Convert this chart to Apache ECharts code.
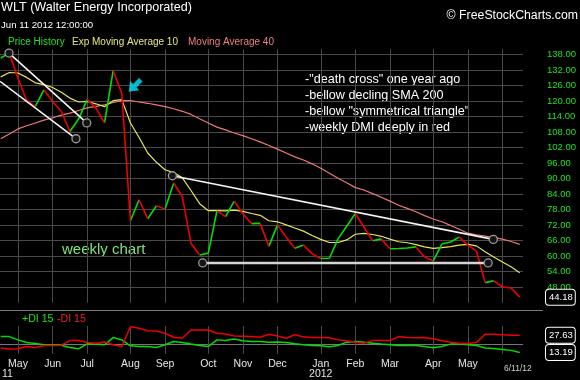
<!DOCTYPE html>
<html><head><meta charset="utf-8">
<script src="https://cdn.jsdelivr.net/npm/echarts@6/dist/echarts.min.js"></script>
<style>html,body{margin:0;padding:0;background:#000;}#c{width:580px;height:380px;}</style>
</head><body><div id="c"></div>
<script>
// weekly closes, Apr 22 2011 .. Jun 15 2012 (week index 0..60)
const price = [136.6,138.5,128.8,120.2,117.9,124.3,119.8,116.0,108.2,113.0,
  120.5,117.3,111.5,131.7,123.0,73.7,81.8,74.5,79.5,78.2,
  88.3,83.0,65.0,60.5,61.2,77.5,75.3,81.3,76.4,72.6,
  72.7,63.8,72.1,67.4,63.1,64.3,61.0,59.1,59.2,66.7,
  71.6,76.5,71.2,66.0,66.7,62.9,63.0,63.2,63.6,59.7,
  58.2,64.7,65.5,67.4,64.3,62.0,49.8,50.5,48.2,47.7,44.18];
const ema10 = [129.3,131.0,130.8,129.1,127.0,126.3,125.2,123.4,121.1,119.6,
  119.8,118.9,117.8,120.1,120.5,111.5,105.9,99.9,96.3,93.4,
  92.3,90.3,85.4,80.3,77.6,77.6,77.5,77.8,77.3,76.5,
  75.8,73.7,73.3,72.1,70.9,69.7,68.0,66.5,65.3,65.3,
  66.3,68.5,68.8,68.4,67.7,66.6,65.6,65.2,64.5,63.6,
  63.0,63.3,63.7,64.3,64.6,64.0,61.7,59.7,57.8,55.9,53.6];
const ma40 = [105.4,107.2,109.2,110.4,111.5,112.6,113.5,114.5,115.3,116.3,
  117.3,117.9,118.5,119.4,120.1,120.1,119.6,119.1,118.5,117.8,
  117.0,116.0,114.8,113.1,111.5,109.9,108.8,107.6,106.6,105.4,
  104.2,102.8,101.4,99.9,98.4,97.2,95.7,94.0,92.1,90.1,
  88.4,86.5,85.6,84.2,82.8,81.3,79.7,78.5,77.2,75.7,
  74.4,73.3,71.9,70.4,68.9,68.3,67.8,67.2,66.6,65.7,64.6];
const diPlus = [26.4,26.4,23.7,21.5,20.7,19.6,19.6,19.3,17.4,16.3,
  20.4,20.2,19.6,25.6,23.7,18.8,18.2,18.2,17.4,19.6,
  22.3,21.5,20.2,19.0,18.2,23.7,23.1,24.5,22.9,22.3,
  22.3,21.8,22.0,21.5,20.4,19.6,19.0,18.8,18.0,19.0,
  21.8,22.3,21.8,21.0,20.2,19.6,19.0,19.0,19.0,18.2,
  17.1,18.2,20.2,20.2,19.6,19.0,16.9,16.6,15.8,15.0,13.19];
const diMinus = [16.9,16.1,16.3,18.2,17.4,19.0,19.0,19.3,23.1,23.1,
  21.5,21.0,22.0,19.6,18.2,34.6,33.3,31.3,31.1,29.2,
  25.9,25.1,31.9,31.9,31.9,29.2,28.6,27.0,26.7,26.4,
  25.9,28.3,27.0,25.1,28.0,26.2,25.6,25.6,25.4,23.7,
  22.9,21.8,21.0,23.1,23.1,23.1,26.4,25.6,25.4,25.6,
  24.6,22.9,21.8,21.0,20.7,21.5,28.3,28.3,28.0,27.5,27.63];
// x axis: month starts (week index) and labels
const monthTicks = [2,6,10,15,19,24,28,32,37,41,45,50,54,58];
const monthLabelPos = [2,6,10,15,19,24,28,32,37,41,45,50,54];
const monthLabels = ['May','Jun','Jul','Aug','Sep','Oct','Nov','Dec','Jan','Feb','Mar','Apr','May'];
const yearLabels = {37:'2012'};
const priceTicks = [48,54,60,66,72,78,84,90,96,102,108,114,120,126,132,138];
const dmiTicks = [20];
// drawn trend lines (week index, price)
const trendLines = [
  {from:[0.96,138.5], to:[9.95,111.5], startMark:true},
  {from:[-0.08,127.6], to:[8.7,105.4], startMark:false},
  {from:[19.85,91.1], to:[56.95,66.5], startMark:true},
  {from:[23.35,57.4], to:[56.35,57.4], startMark:true, color:'#d4d4d4', width:2.5}
];
const arrowAt = [15.5,125.9];
const notes = ['-"death cross" one year ago','-bellow decling SMA 200','-bellow "symmetrical triangle"','-weekly DMI deeply in red'];

const F = '"Liberation Sans", Arial, sans-serif';
const GRID = '#4a4a4a';
const idx = a => a.map((v,i)=>[i,v]);
function segs(up){
  const d=[];
  for(let i=0;i<price.length-1;i++){
    const isUp = price[i+1] >= price[i];
    if(isUp===up){ d.push([i,price[i]],[i+1,price[i+1]],[i+0.5,'-']); }
  }
  return d;
}
function endBox(v){
  return {silent:true, symbol:['none','none'], lineStyle:{color:'rgba(0,0,0,0)', width:0},
    data:[{yAxis:v}],
    label:{show:true, position:'end', distance:23, formatter:p=>Number(p.value).toFixed(2), color:'#fff', fontFamily:F, fontSize:9.5,
      backgroundColor:'#000', borderColor:'#fff', borderWidth:1, borderRadius:3, padding:[3,2,2,3]},
    emphasis:{disabled:true}};
}
const chart = echarts.init(document.getElementById('c'), null, {renderer:'canvas'});
const xBase = {type:'value', min:-0.08, max:60.38, axisLine:{show:false},
  axisTick:{show:false, customValues:monthTicks},
  splitLine:{show:true, lineStyle:{color:GRID,width:1}}};
const series = [
  {type:'line', name:'MA40', data:idx(ma40), showSymbol:false, lineStyle:{color:'#ee7878', width:1.2}, z:2},
  {type:'line', name:'EMA10', data:idx(ema10), showSymbol:false, lineStyle:{color:'#e6e65e', width:1.2}, z:3},
  {type:'line', name:'up', data:segs(true), showSymbol:false, connectNulls:false, lineStyle:{color:'#00e000', width:1.6}, z:4},
  {type:'line', name:'down', data:segs(false), showSymbol:false, connectNulls:false, lineStyle:{color:'#ee0000', width:1.6}, z:4,
    markLine:endBox(price[price.length-1])}
];
trendLines.forEach(t=>{
  series.push({type:'line', data:[{value:t.from, symbol:t.startMark?'circle':'none'},{value:t.to}],
    symbol:'circle', symbolSize:8, showSymbol:true,
    lineStyle:{color:t.color||'#f4f4f4', width:t.width||1.6},
    itemStyle:{color:'#151515', borderColor:'#9a9a9a', borderWidth:1.3}, z:6});
});
series.push({type:'scatter', data:[arrowAt], symbol:'path://M8,0 L16,8 L11,8 L11,16 L5,16 L5,8 L0,8 Z',
  symbolSize:[13,17], symbolRotate:135, itemStyle:{color:'#00e8ff'}, z:7, silent:true});
series.push({type:'line', xAxisIndex:1, yAxisIndex:1, data:idx(diPlus), showSymbol:false,
  lineStyle:{color:'#00dd00', width:1.5}, z:4, markLine:endBox(diPlus[diPlus.length-1])});
series.push({type:'line', xAxisIndex:1, yAxisIndex:1, data:idx(diMinus), showSymbol:false,
  lineStyle:{color:'#ee0000', width:1.5}, z:4, markLine:endBox(diMinus[diMinus.length-1])});

const txt = (left, top, text, fill, size, extra) => Object.assign({type:'text', left, top, silent:true,
  style:{text, fill, font: size+'px '+F}}, extra||{});
chart.setOption({
  backgroundColor:'#000', animation:false,
  grid:[{left:0, right:57, top:49.2, height:253.6},{left:0, right:57, top:326, height:28}],
  xAxis:[Object.assign({gridIndex:0, axisLabel:{show:false}}, xBase),
    Object.assign({gridIndex:1, axisLabel:{show:true, customValues:monthLabelPos, color:'#e6e6e6', fontFamily:F, fontSize:10.5,
      margin:5, lineHeight:10.5, formatter:v=>{const k=monthLabelPos.indexOf(Math.round(v)); const m=monthLabels[k]||''; return yearLabels[Math.round(v)]? m+'\n'+yearLabels[Math.round(v)] : m;}}}, xBase)],
  yAxis:[{type:'value', gridIndex:0, position:'right', min:42, max:140, axisLine:{show:false},
      axisTick:{show:false, customValues:priceTicks},
      axisLabel:{customValues:priceTicks, formatter:v=>v.toFixed(2), color:'#22e022', fontFamily:F, fontSize:9.5, align:'left', margin:24},
      splitLine:{show:true, lineStyle:{color:GRID,width:1}}},
    {type:'value', gridIndex:1, position:'right', min:12.2, max:35.2, axisLine:{show:false},
      axisTick:{show:false, customValues:dmiTicks},
      axisLabel:{customValues:dmiTicks, formatter:v=>v.toFixed(2), color:'#22e022', fontFamily:F, fontSize:9.5, align:'left', margin:24},
      splitLine:{show:true, lineStyle:{color:'#777',width:1}}}],
  series,
  graphic:[
    txt(1,1,'WLT (Walter Energy Incorporated)','#fff',12.6),
    txt(1,20,'Jun 11 2012 12:00:00','#fff',9.6),
    txt(8,37,'Price History','#22e022',10),
    txt(72,37,'Exp Moving Average 10','#e6e67a',10),
    txt(188,37,'Moving Average 40','#f07f7f',10),
    {type:'text', right:2, top:10, silent:true, style:{text:'© FreeStockCharts.com', fill:'#fff', font:'12.3px '+F}},
    {type:'text', left:305, top:72, silent:true, style:{text:notes.join('\n'), fill:'#fff', font:'12.6px '+F, lineHeight:16}},
    txt(62,242,'weekly chart','#7be37b',15),
    txt(22,313.5,'+DI 15','#22e022',10.6),
    txt(57,313.5,'-DI 15','#ee2020',10.6),
    txt(2,369,'11','#e6e6e6',10.5),
    txt(504,364.5,'6/11/12','#cfcfcf',8.5),
    {type:'line', silent:true, shape:{x1:0,y1:310.5,x2:543,y2:310.5}, style:{stroke:'#7a7a7a', lineWidth:1}}
  ]
});
</script></body></html>
